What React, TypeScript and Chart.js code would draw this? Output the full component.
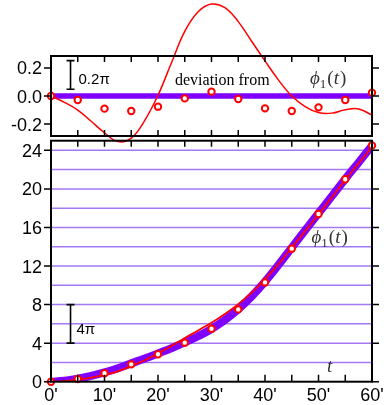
import React, { useEffect, useRef } from "react";
import { Chart, registerables } from "chart.js";

Chart.register(...registerables);

// ---- data (minutes, phase in units of π) ----
const curveTimes = [0, 2.5, 5, 7.5, 10, 12.5, 15, 17.5, 20, 22.5, 25, 27.5, 30, 32.5, 35, 37.5, 40, 42.5, 45, 47.5, 50, 52.5, 55, 57.5, 60];
const theoryPhase = [0, 0.1, 0.31, 0.6, 0.96, 1.4, 1.91, 2.4, 2.93, 3.47, 4.07, 4.72, 5.47, 6.4, 7.52, 8.85, 10.39, 12.1, 13.91, 15.7, 17.48, 19.25, 21.03, 22.75, 24.48];
const fitPhase = [0, 0.05, 0.21, 0.42, 0.7, 1.08, 1.62, 2.23, 2.94, 3.7, 4.53, 5.32, 6.12, 7.03, 8.05, 9.24, 10.64, 12.2, 13.91, 15.62, 17.36, 19.13, 20.93, 22.66, 24.34];
const fitDeviation = [0, -0.045, -0.1, -0.18, -0.262, -0.325, -0.3, -0.175, 0.005, 0.235, 0.46, 0.6, 0.655, 0.63, 0.53, 0.39, 0.25, 0.115, 0.0, -0.075, -0.118, -0.122, -0.098, -0.092, -0.136];

const sampleTimes = [0, 5, 10, 15, 20, 25, 30, 35, 40, 45, 50, 55, 60];
const measuredPhase = [0, 0.28, 0.87, 1.8, 2.85, 4.05, 5.5, 7.5, 10.3, 13.8, 17.4, 21.0, 24.5];
const measuredDeviation = [0, -0.029, -0.09, -0.107, -0.076, -0.017, 0.031, -0.021, -0.088, -0.107, -0.081, -0.029, 0.024];
const zeroDeviation = [0, 0, 0, 0, 0, 0, 0, 0, 0, 0, 0, 0, 0];

const xTickValues = [0, 10, 20, 30, 40, 50, 60];
const xTickLabels = ["0'", "10'", "20'", "30'", "40'", "50'", "60'"];
const xMinorTicks = [5, 10, 15, 20, 25, 30, 35, 40, 45, 50, 55];
const bottomYTicks = [0, 4, 8, 12, 16, 20, 24];
const bottomYLabels = ["0", "4", "8", "12", "16", "20", "24"];
const bottomGridValues = [2, 4, 6, 8, 10, 12, 14, 16, 18, 20, 22, 24];
const topYTicks = [-0.2, 0, 0.2];
const topYLabels = ["-0.2", "0.0", "0.2"];

// ---- layout geometry (pixels) ----
const W = 384;
const H = 405;
const PLOT_LEFT = 51;
const PLOT_RIGHT = 372;
const TOP_PANEL_TOP = 56;
const TOP_PANEL_BOTTOM = 136;
const BOT_PANEL_TOP = 140.7;
const BOT_PANEL_BOTTOM = 381.7;
const BOT_MAX = 25;
const TOP_LIM = 0.285;

const botMaxExt = BOT_MAX * (BOT_PANEL_BOTTOM - TOP_PANEL_TOP) / (BOT_PANEL_BOTTOM - BOT_PANEL_TOP);
const topPxPerUnit = (TOP_PANEL_BOTTOM - TOP_PANEL_TOP) / (2 * TOP_LIM);
const topMinExt = -TOP_LIM - (BOT_PANEL_BOTTOM - TOP_PANEL_BOTTOM) / topPxPerUnit;

const RED = "#ff0000";
const VIOLET = "#8000ff";
const GRID = "rgb(165,120,245)";
const SANS = "'Liberation Sans', Arial, sans-serif";
const SERIF = "'Liberation Serif', 'DejaVu Serif', serif";

const pts = (xs: number[], ys: number[]) => xs.map((x, i) => ({ x, y: ys[i] }));

function drawPhiLabel(ctx: CanvasRenderingContext2D, x: number, y: number) {
  ctx.save();
  ctx.fillStyle = "#333";
  ctx.textBaseline = "alphabetic";
  ctx.textAlign = "left";
  let cx = x;
  ctx.font = `italic 19px ${SERIF}`;
  ctx.fillText("ϕ", cx, y);
  cx += ctx.measureText("ϕ").width;
  ctx.font = `13px ${SERIF}`;
  ctx.fillText("1", cx, y + 4);
  cx += ctx.measureText("1").width + 1;
  ctx.font = `19px ${SERIF}`;
  ctx.fillText("(", cx, y);
  cx += ctx.measureText("(").width;
  ctx.font = `italic 19px ${SERIF}`;
  ctx.fillText("t", cx, y);
  cx += ctx.measureText("t").width + 1;
  ctx.font = `19px ${SERIF}`;
  ctx.fillText(")", cx, y);
  ctx.restore();
}

const framePlugin = {
  id: "framePlugin",
  beforeDatasetsDraw(chart: any) {
    const { ctx } = chart;
    const ys = chart.scales.y;
    ctx.save();
    ctx.strokeStyle = GRID;
    ctx.lineWidth = 1.5;
    for (const v of bottomGridValues) {
      const py = ys.getPixelForValue(v);
      ctx.beginPath();
      ctx.moveTo(PLOT_LEFT, py);
      ctx.lineTo(PLOT_RIGHT, py);
      ctx.stroke();
    }
    ctx.restore();
  },
  afterDraw(chart: any) {
    const { ctx } = chart;
    const xs = chart.scales.x;
    const ys = chart.scales.y;
    const y2 = chart.scales.y2;
    const L = xs.getPixelForValue(0);
    const R = xs.getPixelForValue(60);
    const tT = y2.getPixelForValue(TOP_LIM);
    const tB = y2.getPixelForValue(-TOP_LIM);
    const bT = ys.getPixelForValue(BOT_MAX);
    const bB = ys.getPixelForValue(0);

    ctx.save();
    ctx.strokeStyle = "#000";
    ctx.lineWidth = 2;
    ctx.strokeRect(L, tT, R - L, tB - tT);
    ctx.strokeRect(L, bT, R - L, bB - bT);

    // ticks
    ctx.lineWidth = 1.5;
    ctx.beginPath();
    for (const t of xMinorTicks) {
      const px = xs.getPixelForValue(t);
      ctx.moveTo(px, tT); ctx.lineTo(px, tT + 6);
      ctx.moveTo(px, tB); ctx.lineTo(px, tB - 6);
      ctx.moveTo(px, bT); ctx.lineTo(px, bT + 6);
      ctx.moveTo(px, bB); ctx.lineTo(px, bB - 7);
    }
    for (const v of bottomYTicks) {
      const py = ys.getPixelForValue(v);
      ctx.moveTo(L - 7, py); ctx.lineTo(L, py);
      ctx.moveTo(R, py); ctx.lineTo(R + 7, py);
    }
    for (const v of topYTicks) {
      const py = y2.getPixelForValue(v);
      ctx.moveTo(L - 7, py); ctx.lineTo(L, py);
      ctx.moveTo(R, py); ctx.lineTo(R + 7, py);
    }
    ctx.stroke();

    // tick labels
    ctx.fillStyle = "#000";
    ctx.font = `18px ${SANS}`;
    ctx.textAlign = "right";
    ctx.textBaseline = "alphabetic";
    bottomYTicks.forEach((v, i) => {
      ctx.fillText(bottomYLabels[i], L - 9, ys.getPixelForValue(v) + 6.5);
    });
    topYTicks.forEach((v, i) => {
      ctx.fillText(topYLabels[i], L - 9, y2.getPixelForValue(v) + 6.5);
    });
    ctx.textAlign = "center";
    xTickValues.forEach((v, i) => {
      ctx.fillText(xTickLabels[i], xs.getPixelForValue(v), 400.5);
    });

    // scale bars
    const barX = xs.getPixelForValue(3.65);
    const drawBar = (p1: number, p2: number) => {
      ctx.beginPath();
      ctx.moveTo(barX, p1); ctx.lineTo(barX, p2);
      ctx.moveTo(barX - 4, p1); ctx.lineTo(barX + 4, p1);
      ctx.moveTo(barX - 4, p2); ctx.lineTo(barX + 4, p2);
      ctx.stroke();
    };
    ctx.lineWidth = 1.6;
    drawBar(y2.getPixelForValue(0.252), y2.getPixelForValue(0.048));
    drawBar(ys.getPixelForValue(8), ys.getPixelForValue(4));
    ctx.textAlign = "left";
    ctx.font = `15px ${SANS}`;
    ctx.fillText("0.2π", barX + 8, 83.5);
    ctx.fillText("4π", barX + 6, 333.5);

    ctx.font = `16px ${SERIF}`;
    ctx.fillText("deviation from", 175, 84.5);
    ctx.restore();

    drawPhiLabel(ctx, 310, 84);
    drawPhiLabel(ctx, 311.5, 242.5);
    ctx.save();
    ctx.fillStyle = "#333";
    ctx.font = `italic 19px ${SERIF}`;
    ctx.fillText("t", 327, 371.5);
    ctx.restore();
  },
};

export default function App() {
  const ref = useRef<HTMLCanvasElement | null>(null);

  useEffect(() => {
    document.body.style.margin = "0";
    const canvas = ref.current;
    if (!canvas) return;
    const botClip = { left: 0, right: 0, top: -(BOT_PANEL_TOP - TOP_PANEL_TOP), bottom: 0 };
    const chart = new Chart(canvas, {
      type: "line",
      data: {
        datasets: [
          {
            label: "theory",
            data: pts(curveTimes, theoryPhase),
            xAxisID: "x", yAxisID: "y",
            borderColor: VIOLET, borderWidth: 8, pointRadius: 0,
            tension: 0.4, clip: botClip as any, order: 6,
          },
          {
            label: "fit",
            data: pts(curveTimes, fitPhase),
            xAxisID: "x", yAxisID: "y",
            borderColor: RED, borderWidth: 1.8, pointRadius: 0,
            tension: 0.4, clip: botClip as any, order: 5,
          },
          {
            label: "measured",
            data: pts(sampleTimes, measuredPhase),
            xAxisID: "x", yAxisID: "y",
            showLine: false, pointRadius: 3.2, pointBorderWidth: 2,
            pointBackgroundColor: "#fff", pointBorderColor: RED,
            clip: false as any, order: 1,
          },
          {
            label: "zero",
            data: pts(sampleTimes, zeroDeviation),
            xAxisID: "x", yAxisID: "y2",
            borderColor: VIOLET, borderWidth: 5.5, pointRadius: 0,
            clip: false as any, order: 4,
          },
          {
            label: "fit deviation",
            data: pts(curveTimes, fitDeviation),
            xAxisID: "x", yAxisID: "y2",
            borderColor: RED, borderWidth: 1.5, pointRadius: 0,
            tension: 0.4, clip: false as any, order: 3,
          },
          {
            label: "measured deviation",
            data: pts(sampleTimes, measuredDeviation),
            xAxisID: "x", yAxisID: "y2",
            showLine: false, pointRadius: 3.2, pointBorderWidth: 2,
            pointBackgroundColor: "#fff", pointBorderColor: RED,
            clip: false as any, order: 2,
          },
        ],
      },
      options: {
        responsive: false,
        animation: false,
        events: [],
        layout: {
          padding: {
            left: PLOT_LEFT,
            right: W - PLOT_RIGHT,
            top: TOP_PANEL_TOP,
            bottom: H - BOT_PANEL_BOTTOM,
          },
        },
        plugins: { legend: { display: false }, tooltip: { enabled: false }, title: { display: false } },
        scales: {
          x: { type: "linear", min: 0, max: 60, display: false },
          y: { type: "linear", min: 0, max: botMaxExt, display: false },
          y2: { type: "linear", min: topMinExt, max: TOP_LIM, display: false },
        },
      },
      plugins: [framePlugin],
    });
    return () => chart.destroy();
  }, []);

  return (
    <div style={{ position: "fixed", left: 0, top: 0, width: W, height: H, background: "#fff" }}>
      <canvas ref={ref} width={W} height={H} style={{ width: W, height: H, display: "block" }} />
    </div>
  );
}
